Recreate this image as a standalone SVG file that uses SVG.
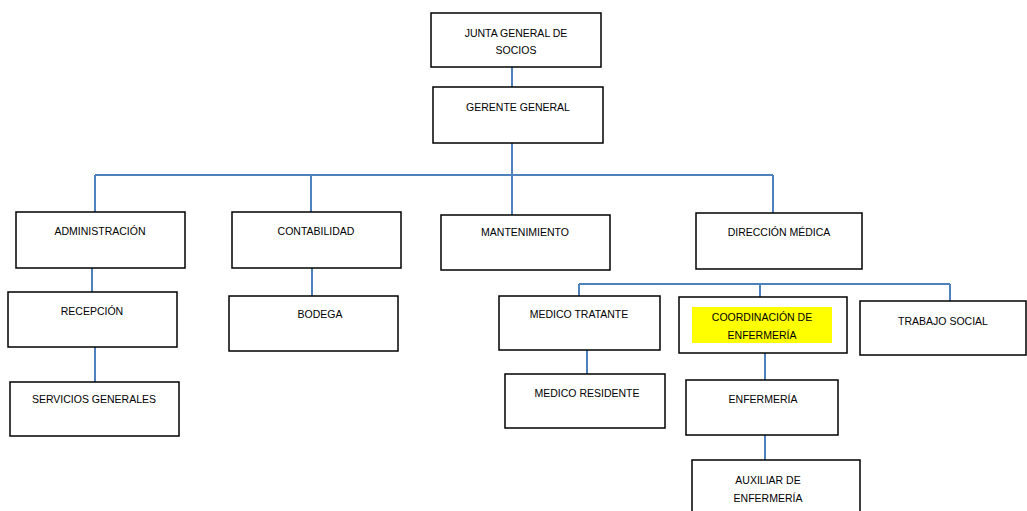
<svg xmlns="http://www.w3.org/2000/svg" width="1027" height="511" viewBox="0 0 1027 511">
<style>
.b{fill:#fff;stroke:#000;stroke-width:1.5}
.t{font-family:"Liberation Sans",Arial,sans-serif;font-size:10.5px;fill:#000;text-anchor:middle}
.c{fill:none;stroke:#4f81bd;stroke-width:2}
</style>
<rect width="1027" height="511" fill="#fff"/>
<g id="connectors">
<path class="c" d="M512 67V87M512 143V175M95 175H773M95 175V212M311 175V212M512 175V215M773 175V213"/>
<path class="c" d="M92 268V292M95 347V382M312 268V296"/>
<path class="c" d="M579 284H950M579 284V296M760 284V297M950 284V301"/>
<path class="c" d="M587 350V374M765 353V380M765 435V460"/>
</g>
<g id="junta"><rect class="b" x="431" y="13" width="170" height="54"/><text class="t" x="516" y="37">JUNTA GENERAL DE</text><text class="t" x="516" y="54">SOCIOS</text></g>
<g id="gerente"><rect class="b" x="433" y="87" width="170" height="56"/><text class="t" x="518" y="111">GERENTE GENERAL</text></g>
<g id="administracion"><rect class="b" x="16" y="212" width="169" height="56"/><text class="t" x="100" y="235">ADMINISTRACIÓN</text></g>
<g id="contabilidad"><rect class="b" x="232" y="212" width="169" height="56"/><text class="t" x="316" y="235">CONTABILIDAD</text></g>
<g id="mantenimiento"><rect class="b" x="441" y="215" width="169" height="55"/><text class="t" x="525" y="236">MANTENIMIENTO</text></g>
<g id="direccion"><rect class="b" x="696" y="213" width="166" height="56"/><text class="t" x="779" y="236">DIRECCIÓN MÉDICA</text></g>
<g id="recepcion"><rect class="b" x="8" y="292" width="169" height="55"/><text class="t" x="92" y="315">RECEPCIÓN</text></g>
<g id="servicios"><rect class="b" x="10" y="382" width="169" height="54"/><text class="t" x="94" y="403">SERVICIOS GENERALES</text></g>
<g id="bodega"><rect class="b" x="229" y="296" width="169" height="55"/><text class="t" x="320" y="318">BODEGA</text></g>
<g id="medico-tratante"><rect class="b" x="499" y="296" width="161" height="54"/><text class="t" x="579" y="318">MEDICO TRATANTE</text></g>
<g id="coordinacion"><rect class="b" x="679" y="297" width="168" height="56"/><rect x="692" y="307" width="140" height="36" fill="#ffff00"/><text class="t" x="762" y="321">COORDINACIÓN DE</text><text class="t" x="762" y="339">ENFERMERÍA</text></g>
<g id="trabajo-social"><rect class="b" x="860" y="301" width="166" height="54"/><text class="t" x="943" y="325">TRABAJO SOCIAL</text></g>
<g id="medico-residente"><rect class="b" x="505" y="374" width="160" height="54"/><text class="t" x="587" y="397">MEDICO RESIDENTE</text></g>
<g id="enfermeria"><rect class="b" x="686" y="380" width="152" height="55"/><text class="t" x="763" y="403">ENFERMERÍA</text></g>
<g id="auxiliar"><rect class="b" x="692" y="460" width="168" height="55"/><text class="t" x="768" y="484">AUXILIAR DE</text><text class="t" x="768" y="502">ENFERMERÍA</text></g>
</svg>
